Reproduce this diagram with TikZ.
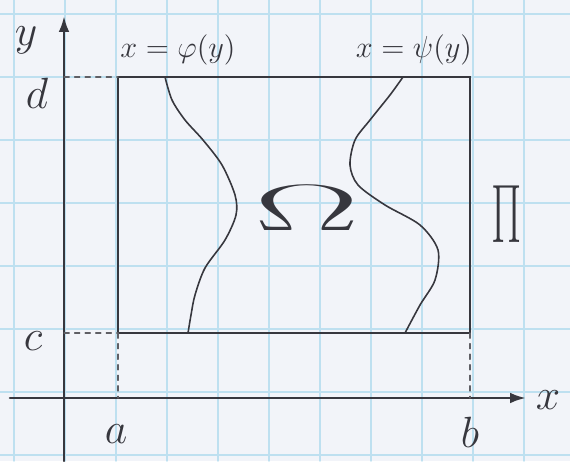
\documentclass[tikz,border=0pt]{standalone}
\usepackage{amsmath,amssymb}
\usepackage{tikz}
\usepackage{xcolor}
\usetikzlibrary{arrows.meta}
\definecolor{pencil}{RGB}{55,55,62}
\definecolor{gridblue}{RGB}{190,224,240}
\definecolor{paper}{RGB}{242,244,249}

\begin{document}
\begin{tikzpicture}[x=0.2mm,y=-0.2mm,line cap=round,
  ink/.style={pencil,line width=1.5pt},
  thinink/.style={pencil,line width=0.9pt},
  guide/.style={pencil!80,line width=0.6pt,dashed},
  lbl/.style={text=pencil,font=\Huge,inner sep=1pt}]
  \fill[paper] (0,0) rectangle (570,461); \useasboundingbox (0,0) rectangle (570,461);
  \foreach \gx in {14,65,...,524} \draw[gridblue,line width=0.8pt] (\gx,0) -- (\gx,461);
  \foreach \gy in {14,77,...,456} \draw[gridblue,line width=0.8pt] (0,\gy) -- (570,\gy);
  % axes
  \coordinate (ybot) at (64,461); \coordinate (ytop) at (64,16);
  \coordinate (xleft) at (10,398); \coordinate (xright) at (526,398);
  \draw[ink,-{Latex[length=9pt,width=6pt]}] (ybot) -- (ytop);
  \draw[ink,-{Latex[length=9pt,width=6pt]}] (xleft) -- (xright);
  \node[lbl] (ylab) at (26,40) {$y$}; \node[lbl] (xlab) at (548,400) {$x$};
  % rectangle Pi
  \coordinate (A) at (118,333); \coordinate (B) at (470,333);
  \coordinate (C) at (470,77); \coordinate (D) at (118,77);
  \coordinate (Da) at (64,77); \coordinate (Ca) at (64,333);
  \coordinate (Ax) at (118,398); \coordinate (Bx) at (470,398);
  \draw[ink] (A) -- (B) -- (C) -- (D) -- cycle;
  \draw[guide] (Da) -- (D); \draw[guide] (Ca) -- (A);
  \draw[guide] (A) -- (Ax); \draw[guide] (B) -- (Bx);
  \node[lbl] (dlab) at (37,93) {$d$}; \node[lbl] (clab) at (33,341) {$c$};
  \node[lbl] (alab) at (116,434) {$a$}; \node[lbl] (blab) at (470,432) {$b$};
  % boundary curves
  \draw[thinink] plot[smooth] coordinates {(165,77) (172,100) (185,120) (203,140) (222,165) (235,195) (236,215) (225,240) (205,268) (195,295) (191,315) (188,333)};
  \draw[thinink] plot[smooth] coordinates {(403,77) (390,95) (370,120) (355,140) (350,165) (358,185) (385,205) (420,225) (438,250) (435,280) (420,305) (405,333)};
  \node[lbl,font=\Large,scale=1.2] (phi) at (178,50) {$x=\varphi(y)$};
  \node[lbl,font=\Large,scale=1.2] (psi) at (414,50) {$x=\psi(y)$};
  \node[lbl,xscale=3.6,yscale=1.5] (Om) at (307,208) {$\Omega$};
  \node[lbl,xscale=1.0,yscale=1.9] (Pi) at (507,214) {$\Pi$};
\end{tikzpicture}
\end{document}
